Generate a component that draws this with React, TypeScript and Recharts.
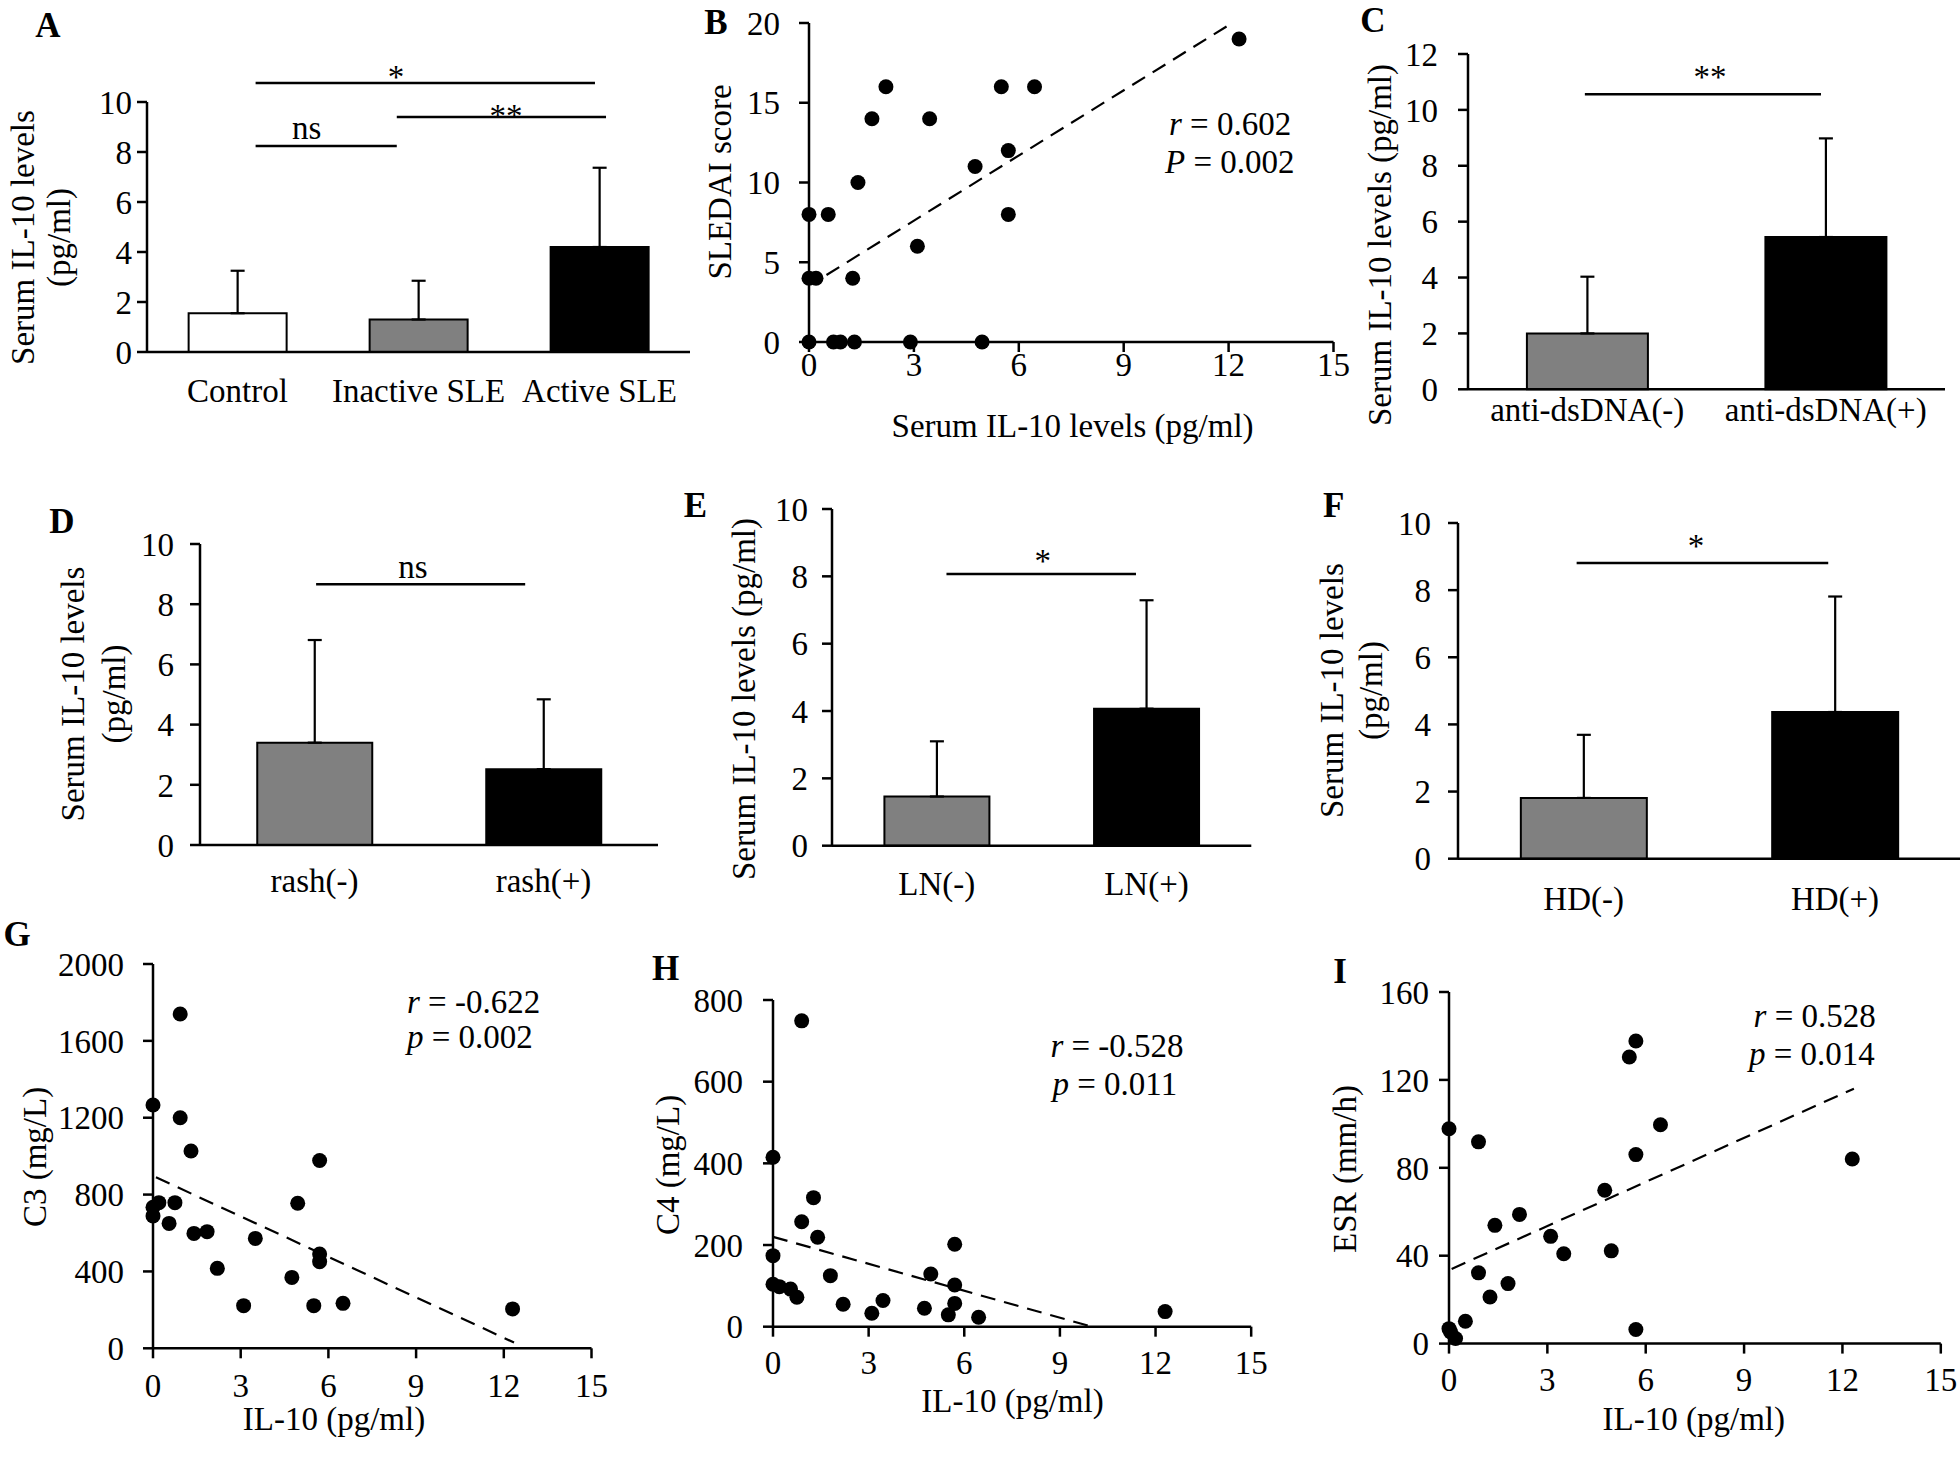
import React from 'react';
import {
  BarChart,
  Bar,
  Cell,
  ErrorBar,
  ScatterChart,
  Scatter,
  XAxis,
  YAxis,
  ReferenceLine,
} from 'recharts';

const FONT = '"Liberation Serif", "Times New Roman", serif';
const FS = 33;
const INK = '#000';

// A - serum IL-10 by disease activity (mean, SD)
const A_GROUPS = ['Control', 'Inactive SLE', 'Active SLE'];
const A_MEAN = [1.55, 1.3, 4.2];
const A_SD = [1.7, 1.55, 3.17];
const A_FILL = ['#ffffff', '#808080', '#000000'];

// C - anti-dsDNA
const C_GROUPS = ['anti-dsDNA(-)', 'anti-dsDNA(+)'];
const C_MEAN = [2.0, 5.45];
const C_SD = [2.03, 3.53];

// D - rash
const D_GROUPS = ['rash(-)', 'rash(+)'];
const D_MEAN = [3.4, 2.52];
const D_SD = [3.41, 2.32];

// E - lupus nephritis
const E_GROUPS = ['LN(-)', 'LN(+)'];
const E_MEAN = [1.46, 4.07];
const E_SD = [1.64, 3.22];

// F - hematological disorder
const F_GROUPS = ['HD(-)', 'HD(+)'];
const F_MEAN = [1.81, 4.37];
const F_SD = [1.88, 3.44];

const PAIR_FILL = ['#808080', '#000000'];

const TICKS_10 = [0, 2, 4, 6, 8, 10];
const TICKS_12 = [0, 2, 4, 6, 8, 10, 12];
const IL10_TICKS = [0, 3, 6, 9, 12, 15];

// significance brackets (x in category units from the left edge, y in pg/ml)
const A_SIG = [
  { from: 0.6, to: 2.475, y: 10.76 },
  { from: 1.38, to: 2.536, y: 9.4 },
  { from: 0.6, to: 1.38, y: 8.24 },
];
const C_SIG = [{ from: 0.49, to: 1.48, y: 10.56 }];
const D_SIG = [{ from: 0.507, to: 1.42, y: 8.66 }];
const E_SIG = [{ from: 0.546, to: 1.45, y: 8.07 }];
const F_SIG = [{ from: 0.472, to: 1.473, y: 8.81 }];

// B - SLEDAI vs IL-10
const B_IL10 = [12.3, 2.2, 5.5, 6.45, 1.8, 3.45, 5.7, 4.75, 1.4, 0, 0.55, 5.7, 3.1, 0, 0.2, 1.25, 0, 0.7, 0.9, 1.3, 2.9, 4.95];
const B_SLEDAI = [19, 16, 16, 16, 14, 14, 12, 11, 10, 8, 8, 8, 6, 4, 4, 4, 0, 0, 0, 0, 0, 0];
const B_FIT = [{ x: 0.5, y: 4.2 }, { x: 12.1, y: 20 }];

// G - C3 vs IL-10
const G_IL10 = [0.93, 0, 0.93, 1.3, 5.7, 0, 0.2, 0, 0.75, 0.55, 1.4, 1.85, 3.5, 4.95, 5.7, 5.7, 2.2, 4.75, 3.1, 5.5, 6.5, 12.3];
const G_C3 = [1740, 1266, 1200, 1027, 977, 734, 758, 689, 758, 650, 598, 607, 572, 755, 491, 451, 416, 369, 222, 222, 234, 205];
const G_FIT = [{ x: 0.1, y: 890 }, { x: 12.35, y: 30 }];

// H - C4 vs IL-10
const H_IL10 = [0.9, 0, 1.27, 0.9, 1.4, 5.7, 0, 1.8, 4.95, 5.7, 0, 0.2, 0.55, 0.75, 2.2, 3.45, 3.1, 4.75, 5.7, 5.5, 6.45, 12.3];
const H_C4 = [749, 415, 316, 257, 219, 202, 174, 125, 129, 102, 104, 98, 92, 72, 55, 64, 33, 45, 57, 29, 23, 37];
const H_FIT = [{ x: 0, y: 220 }, { x: 10, y: 0 }];

// I - ESR vs IL-10
const I_IL10 = [5.7, 5.5, 0, 0.9, 6.45, 5.7, 12.3, 4.75, 2.15, 1.4, 3.1, 3.5, 4.95, 0.9, 1.8, 1.25, 0.5, 0, 0.05, 0.2, 5.7];
const I_ESR = [137.7, 130.4, 97.8, 91.8, 99.6, 86, 84, 69.8, 58.8, 53.8, 48.8, 40.9, 42.2, 32.2, 27.3, 21.2, 10.2, 6.8, 5.3, 2.3, 6.4];
const I_FIT = [{ x: 0.08, y: 34 }, { x: 12.35, y: 116 }];

const tickStyle = { fill: INK, fontSize: FS, fontFamily: FONT };
const axisStyle = { stroke: INK, strokeWidth: 2.5 };

type Box = { left: number; top: number; right: number; bottom: number };
type Sig = { from: number; to: number; y: number };

function BarPanel(props: {
  box: Box;
  groups: string[];
  means: number[];
  sds: number[];
  fills: string[];
  yMax: number;
  yTicks: number[];
  yGap: number;
  xGap: number;
  gap: string;
  sigs: Sig[];
}) {
  const { box, groups, means, sds, fills, yMax, yTicks, yGap, xGap, gap, sigs } = props;
  const PADL = 120, PADT = 80, PADR = 10, PADB = 70;
  const w = box.right - box.left;
  const h = box.bottom - box.top;
  const data = groups.map((g, i) => ({
    name: g,
    slot: i + 0.5,
    mean: means[i],
    err: [0, sds[i]],
  }));

  return (
    <div style={{ position: 'absolute', left: box.left - PADL, top: box.top - PADT }}>
      <BarChart
        width={w + PADL + PADR}
        height={h + PADT + PADB}
        data={data}
        margin={{ top: PADT, right: PADR, left: 0, bottom: 0 }}
        barCategoryGap={gap}
      >
        <XAxis
          dataKey="name"
          height={PADB}
          interval={0}
          tickLine={false}
          tickSize={0}
          tickMargin={xGap}
          axisLine={axisStyle}
          tick={tickStyle}
        />
        {/* linear helper axis for the significance brackets */}
        <XAxis
          xAxisId="n"
          dataKey="slot"
          type="number"
          domain={[0, groups.length]}
          allowDataOverflow
          hide
        />
        <YAxis
          width={PADL}
          domain={[0, yMax]}
          ticks={yTicks}
          interval={0}
          tickSize={10}
          tickMargin={yGap}
          axisLine={axisStyle}
          tickLine={axisStyle}
          tick={tickStyle}
        />
        <Bar dataKey="mean" stroke={INK} strokeWidth={2} isAnimationActive={false}>
          {data.map((d, i) => (
            <Cell key={d.name} fill={fills[i]} />
          ))}
          <ErrorBar dataKey="err" width={7} stroke={INK} strokeWidth={2.2} />
        </Bar>
        {sigs.map((s, i) => (
          <ReferenceLine
            key={i}
            xAxisId="n"
            segment={[{ x: s.from, y: s.y }, { x: s.to, y: s.y }]}
            stroke={INK}
            strokeWidth={2.5}
            ifOverflow="visible"
          />
        ))}
      </BarChart>
    </div>
  );
}

const Dot = (p: any) => <circle cx={p.cx} cy={p.cy} r={7.5} fill={INK} />;

function ScatterPanel(props: {
  box: Box;
  xs: number[];
  ys: number[];
  yMax: number;
  yTicks: number[];
  fit: { x: number; y: number }[];
  yGap: number;
  xGap: number;
}) {
  const { box, xs, ys, yMax, yTicks, fit, yGap, xGap } = props;
  const PADL = 130, PADT = 20, PADR = 20, PADB = 60;
  const w = box.right - box.left;
  const h = box.bottom - box.top;
  const data = xs.map((x, i) => ({ x, y: ys[i] }));

  return (
    <div style={{ position: 'absolute', left: box.left - PADL, top: box.top - PADT }}>
      <ScatterChart
        width={w + PADL + PADR}
        height={h + PADT + PADB}
        margin={{ top: PADT, right: PADR, left: 0, bottom: 0 }}
      >
        <XAxis
          type="number"
          dataKey="x"
          domain={[0, 15]}
          ticks={IL10_TICKS}
          interval={0}
          height={PADB}
          tickSize={10}
          tickMargin={xGap}
          axisLine={axisStyle}
          tickLine={axisStyle}
          tick={tickStyle}
        />
        <YAxis
          type="number"
          dataKey="y"
          width={PADL}
          domain={[0, yMax]}
          ticks={yTicks}
          interval={0}
          tickSize={10}
          tickMargin={yGap}
          axisLine={axisStyle}
          tickLine={axisStyle}
          tick={tickStyle}
        />
        <ReferenceLine
          segment={fit}
          stroke={INK}
          strokeWidth={2.2}
          strokeDasharray="15 9"
          ifOverflow="visible"
        />
        <Scatter data={data} fill={INK} shape={Dot} isAnimationActive={false} />
      </ScatterChart>
    </div>
  );
}

// panel letters, axis titles and statistics (page coordinates, text baselines)
const LETTERS: [string, number, number][] = [
  ['A', 48, 37], ['B', 716, 34], ['C', 1373, 32],
  ['D', 62, 533], ['E', 695.5, 517], ['F', 1333.6, 517],
  ['G', 17, 946], ['H', 665.6, 980], ['I', 1340, 983],
];

const Y_TITLES: [string, number, number][] = [
  ['Serum IL-10 levels', 33.5, 237.5], ['(pg/ml)', 70, 237.5],
  ['SLEDAI score', 730.5, 182],
  ['Serum IL-10 levels (pg/ml)', 1391, 245],
  ['Serum IL-10 levels', 84, 694], ['(pg/ml)', 125, 694],
  ['Serum IL-10 levels (pg/ml)', 755, 699],
  ['Serum IL-10 levels', 1342.5, 690.6], ['(pg/ml)', 1382, 690.6],
  ['C3 (mg/L)', 45.5, 1157],
  ['C4 (mg/L)', 679.4, 1165],
  ['ESR (mm/h)', 1355.6, 1169],
];

const X_TITLES: [string, number, number][] = [
  ['Serum IL-10 levels (pg/ml)', 1072.6, 437],
  ['IL-10 (pg/ml)', 334, 1430],
  ['IL-10 (pg/ml)', 1012.5, 1411.7],
  ['IL-10 (pg/ml)', 1693.8, 1430],
];

const STATS: [string, string, number, number][] = [
  ['r', '0.602', 1169, 135], ['P', '0.002', 1165, 173.3],
  ['r', '-0.622', 407, 1013.3], ['p', '0.002', 407, 1048.3],
  ['r', '-0.528', 1050.4, 1057.3], ['p', '0.011', 1052.5, 1095],
  ['r', '0.528', 1753.6, 1026.7], ['p', '0.014', 1749, 1065],
];

const MARKS: [string, number, number][] = [
  ['*', 396, 88], ['**', 506, 127], ['ns', 306.7, 139],
  ['**', 1710, 88],
  ['ns', 413, 578.3],
  ['*', 1042.7, 572],
  ['*', 1696, 557],
];

function Overlay() {
  return (
    <svg
      width={1960}
      height={1468}
      style={{ position: 'absolute', left: 0, top: 0, pointerEvents: 'none' }}
      fontFamily={FONT}
      fill={INK}
    >
      {LETTERS.map(([t, x, y]) => (
        <text key={t} x={x} y={y} fontSize={35} fontWeight="bold" textAnchor="middle">
          {t}
        </text>
      ))}
      {Y_TITLES.map(([t, x, y], i) => (
        <text
          key={i}
          transform={`translate(${x},${y}) rotate(-90)`}
          fontSize={FS}
          textAnchor="middle"
        >
          {t}
        </text>
      ))}
      {X_TITLES.map(([t, x, y], i) => (
        <text key={i} x={x} y={y} fontSize={FS} textAnchor="middle">
          {t}
        </text>
      ))}
      {STATS.map(([k, v, x, y], i) => (
        <text key={i} x={x} y={y} fontSize={FS}>
          <tspan fontStyle="italic">{k}</tspan>
          {` = ${v}`}
        </text>
      ))}
      {MARKS.map(([t, x, y], i) => (
        <text key={i} x={x} y={y} fontSize={FS} textAnchor="middle">
          {t}
        </text>
      ))}
    </svg>
  );
}

export default function App() {
  return (
    <div
      style={{
        position: 'fixed',
        left: 0,
        top: 0,
        width: 1960,
        height: 1468,
        overflow: 'hidden',
        background: '#fff',
        fontFamily: FONT,
      }}
    >
      <BarPanel
        box={{ left: 147, top: 102, right: 690, bottom: 352 }}
        groups={A_GROUPS} means={A_MEAN} sds={A_SD} fills={A_FILL}
        yMax={10} yTicks={TICKS_10} yGap={5} xGap={27} gap="23%" sigs={A_SIG}
      />
      <ScatterPanel
        box={{ left: 808.5, top: 22.7, right: 1333, bottom: 341.7 }}
        xs={B_IL10} ys={B_SLEDAI} yMax={20} yTicks={[0, 5, 10, 15, 20]}
        fit={B_FIT} yGap={19} xGap={1}
      />
      <BarPanel
        box={{ left: 1468, top: 54, right: 1945, bottom: 389.3 }}
        groups={C_GROUPS} means={C_MEAN} sds={C_SD} fills={PAIR_FILL}
        yMax={12} yTicks={TICKS_12} yGap={20} xGap={8} gap="24.7%" sigs={C_SIG}
      />
      <BarPanel
        box={{ left: 200, top: 544, right: 658, bottom: 845 }}
        groups={D_GROUPS} means={D_MEAN} sds={D_SD} fills={PAIR_FILL}
        yMax={10} yTicks={TICKS_10} yGap={16} xGap={24} gap="25%" sigs={D_SIG}
      />
      <BarPanel
        box={{ left: 831.5, top: 509.3, right: 1250.8, bottom: 846 }}
        groups={E_GROUPS} means={E_MEAN} sds={E_SD} fills={PAIR_FILL}
        yMax={10} yTicks={TICKS_10} yGap={14} xGap={26} gap="25%" sigs={E_SIG}
      />
      <BarPanel
        box={{ left: 1458.3, top: 523.3, right: 1961, bottom: 859 }}
        groups={F_GROUPS} means={F_MEAN} sds={F_SD} fills={PAIR_FILL}
        yMax={10} yTicks={TICKS_10} yGap={17} xGap={28} gap="25%" sigs={F_SIG}
      />
      <ScatterPanel
        box={{ left: 153.4, top: 964, right: 591.9, bottom: 1348.3 }}
        xs={G_IL10} ys={G_C3} yMax={2000} yTicks={[0, 400, 800, 1200, 1600, 2000]}
        fit={G_FIT} yGap={19} xGap={15}
      />
      <ScatterPanel
        box={{ left: 773.4, top: 1000, right: 1251.6, bottom: 1326.7 }}
        xs={H_IL10} ys={H_C4} yMax={800} yTicks={[0, 200, 400, 600, 800]}
        fit={H_FIT} yGap={20} xGap={14}
      />
      <ScatterPanel
        box={{ left: 1449, top: 991.7, right: 1940.8, bottom: 1343.3 }}
        xs={I_IL10} ys={I_ESR} yMax={160} yTicks={[0, 40, 80, 120, 160]}
        fit={I_FIT} yGap={10} xGap={14}
      />
      <Overlay />
    </div>
  );
}
